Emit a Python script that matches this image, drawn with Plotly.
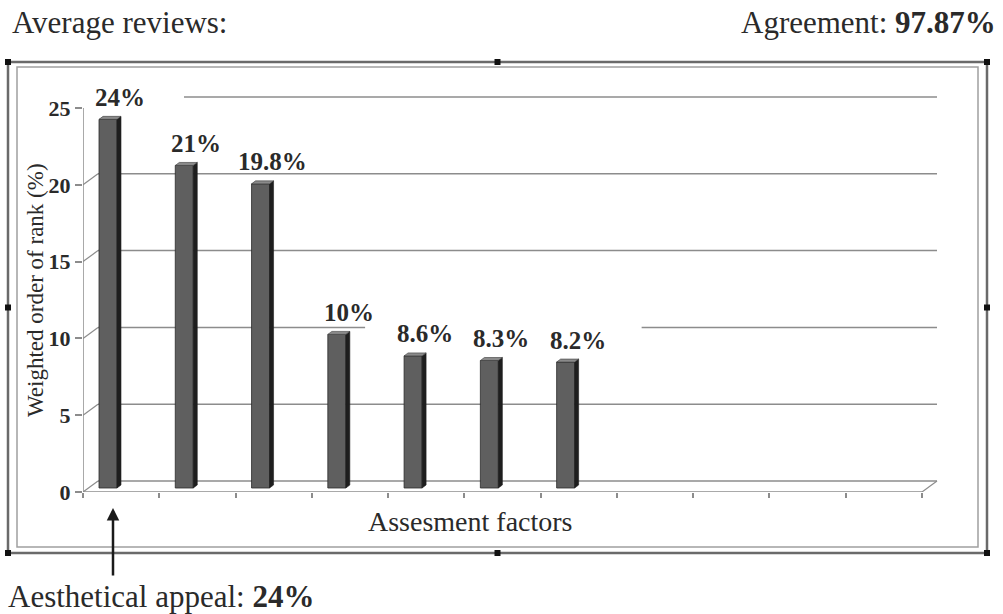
import plotly.graph_objects as go

# ---------------- data ----------------
values = [24, 21, 19.8, 10, 8.6, 8.3, 8.2]
value_labels = ["24%", "21%", "19.8%", "10%", "8.6%", "8.3%", "8.2%"]
n_slots = 11                      # category slots on the axis
y_ticks = [0, 5, 10, 15, 20, 25]
y_tick_labels = ["0", "5", "10", "15", "20", "25"]
top_factor = "Aesthetical appeal"
top_factor_label = "24%"
header_left = "Average reviews:"
header_right = "Agreement:"
agreement_label = "97.87%"
x_title = "Assesment factors"
y_title = "Weighted order of rank (%)"

# ---------------- geometry / style ----------------
FIG_W, FIG_H = 1003, 614
L, R, T, B = 83, 945, 85, 492          # plot area in pixels
PX = (922 - 83) / 11                   # pixels per category slot
PY = (492 - 108) / 25                  # pixels per y unit
XMAX = (R - L) / PX
YMAX = (B - T) / PY

WDX, WDY = 15 / PX, 11 / PY            # back-wall depth offset
BAR_OFF, BAR_W = 16 / PX, 18 / PX      # bar front face
BAR_DY = 4 / PY                        # bar depth (baseline lift)
SDX, SDY = 4 / PX, 3 / PY              # bar side/top depth

FONT = "Liberation Serif, Times New Roman, serif"
TXT = "#2a2a2a"
GRID = "#8c8c8c"


def px_x(p):
    return (p - L) / (R - L)


def px_y(p):
    return (B - p) / (B - T)


fig = go.Figure()

# front faces
centers = [k + BAR_OFF + BAR_W / 2 for k in range(len(values))]
fig.add_trace(go.Bar(
    x=centers, y=values, base=[BAR_DY] * len(values), width=BAR_W,
    marker=dict(color="#5f5f5f", line=dict(color="#2b2b2b", width=0.8)),
    hoverinfo="skip", showlegend=False,
))

# side faces and top faces
sx, sy, tx, ty = [], [], [], []
for k, v in enumerate(values):
    xl = k + BAR_OFF
    xr = xl + BAR_W
    top = BAR_DY + v
    sx += [xr, xr + SDX, xr + SDX, xr, xr, None]
    sy += [BAR_DY, BAR_DY + SDY, top + SDY, top, BAR_DY, None]
    tx += [xl, xr, xr + SDX, xl + SDX, xl, None]
    ty += [top, top, top + SDY, top + SDY, top, None]
fig.add_trace(go.Scatter(x=sx, y=sy, mode="lines", fill="toself",
                         fillcolor="#1e1e1e", line=dict(color="#1e1e1e", width=0.6),
                         hoverinfo="skip", showlegend=False))
fig.add_trace(go.Scatter(x=tx, y=ty, mode="lines", fill="toself",
                         fillcolor="#8a8a8a", line=dict(color="#3a3a3a", width=0.6),
                         hoverinfo="skip", showlegend=False))

shapes = []
# back-wall gridlines and their diagonals to the front axis
for t in y_ticks:
    shapes.append(dict(type="line", xref="x", yref="y", layer="below",
                       x0=WDX, y0=t + WDY, x1=n_slots + WDX, y1=t + WDY,
                       line=dict(color=GRID, width=1.5)))
    shapes.append(dict(type="line", xref="x", yref="y", layer="below",
                       x0=0, y0=t, x1=WDX, y1=t + WDY,
                       line=dict(color=GRID, width=1.2)))
# floor front edge and right diagonal
shapes.append(dict(type="line", xref="x", yref="y", layer="below",
                   x0=0, y0=0, x1=n_slots, y1=0, line=dict(color=GRID, width=1.5)))
shapes.append(dict(type="line", xref="x", yref="y", layer="below",
                   x0=n_slots, y0=0, x1=n_slots + WDX, y1=WDY,
                   line=dict(color=GRID, width=1.2)))
# white label backgrounds (hide gridlines behind labels)
for c, v in zip(centers, values):
    shapes.append(dict(type="rect", xref="x", yref="y", layer="below",
                       xsizemode="pixel", ysizemode="pixel",
                       xanchor=c, yanchor=v + BAR_DY,
                       x0=14 - 62, x1=14 + 62, y0=11, y1=36,
                       fillcolor="white", line=dict(width=0)))
# front y axis line
shapes.append(dict(type="line", xref="x", yref="y", layer="below",
                   x0=0, y0=0, x1=0, y1=y_ticks[-1], line=dict(color=GRID, width=1.5)))

# double frame
shapes.append(dict(type="rect", xref="paper", yref="paper",
                   x0=px_x(8), x1=px_x(987), y0=px_y(553), y1=px_y(62),
                   line=dict(color="#6a6a6a", width=2.5)))
shapes.append(dict(type="rect", xref="paper", yref="paper",
                   x0=px_x(17), x1=px_x(978), y0=px_y(547), y1=px_y(67),
                   line=dict(color="#a0a0a0", width=1.5)))
# frame handles
for hx in (8, 497.5, 987):
    for hy in (62, 307.5, 553):
        if hx == 497.5 and hy == 307.5:
            continue
        shapes.append(dict(type="rect", xref="paper", yref="paper",
                           x0=px_x(hx - 3), x1=px_x(hx + 3),
                           y0=px_y(hy + 3), y1=px_y(hy - 3),
                           fillcolor="#111", line=dict(width=0)))

annotations = []
for c, v, lab in zip(centers, values, value_labels):
    annotations.append(dict(x=c, y=v + BAR_DY, xref="x", yref="y",
                            text=f"<b>{lab}</b>", showarrow=False,
                            xshift=12, yshift=22, yanchor="middle",
                            font=dict(family=FONT, size=25, color=TXT)))
# arrow to the first factor
annotations.append(dict(x=centers[0], y=px_y(508), xref="x", yref="paper",
                        xshift=5, text="", showarrow=True, ax=0, ay=69,
                        arrowhead=2, arrowsize=1, arrowwidth=2.5, arrowcolor="#1a1a1a"))
annotations.append(dict(x=px_x(6), y=px_y(596), xref="paper", yref="paper",
                        xanchor="left", yanchor="middle", showarrow=False,
                        text=f"{top_factor}: <b>{top_factor_label}</b>",
                        font=dict(family=FONT, size=31, color=TXT)))
annotations.append(dict(x=px_x(10), y=px_y(23), xref="paper", yref="paper",
                        xanchor="left", yanchor="middle", showarrow=False,
                        text=header_left, font=dict(family=FONT, size=31, color=TXT)))
annotations.append(dict(x=px_x(998), y=px_y(23), xref="paper", yref="paper",
                        xanchor="right", yanchor="middle", showarrow=False,
                        text=f"{header_right} <b>{agreement_label}</b>",
                        font=dict(family=FONT, size=31, color=TXT)))
annotations.append(dict(x=px_x(470), y=px_y(521), xref="paper", yref="paper",
                        xanchor="center", yanchor="middle", showarrow=False,
                        text=x_title, font=dict(family=FONT, size=28, color=TXT)))
annotations.append(dict(x=px_x(35), y=px_y(290), xref="paper", yref="paper",
                        xanchor="center", yanchor="middle", showarrow=False,
                        textangle=-90, text=y_title,
                        font=dict(family=FONT, size=23, color=TXT)))

fig.update_layout(
    width=FIG_W, height=FIG_H,
    margin=dict(l=L, r=FIG_W - R, t=T, b=FIG_H - B, autoexpand=False),
    paper_bgcolor="white", plot_bgcolor="rgba(0,0,0,0)",
    showlegend=False, hovermode=False,
    shapes=shapes, annotations=annotations,
    xaxis=dict(range=[0, XMAX], showgrid=False, zeroline=False, showline=False,
               tickmode="array", tickvals=list(range(n_slots + 1)),
               ticks="outside", ticklen=5, tickwidth=1.5, tickcolor=GRID,
               showticklabels=False, fixedrange=True),
    yaxis=dict(range=[0, YMAX], showgrid=False, zeroline=False, showline=False,
               tickmode="array", tickvals=y_ticks, ticktext=y_tick_labels,
               ticks="outside", ticklen=7, tickwidth=1.5, tickcolor=GRID,
               tickfont=dict(family=FONT, size=22, color=TXT, weight="bold"),
               fixedrange=True),
)

fig.write_html("out.html", config={"displayModeBar": False})
